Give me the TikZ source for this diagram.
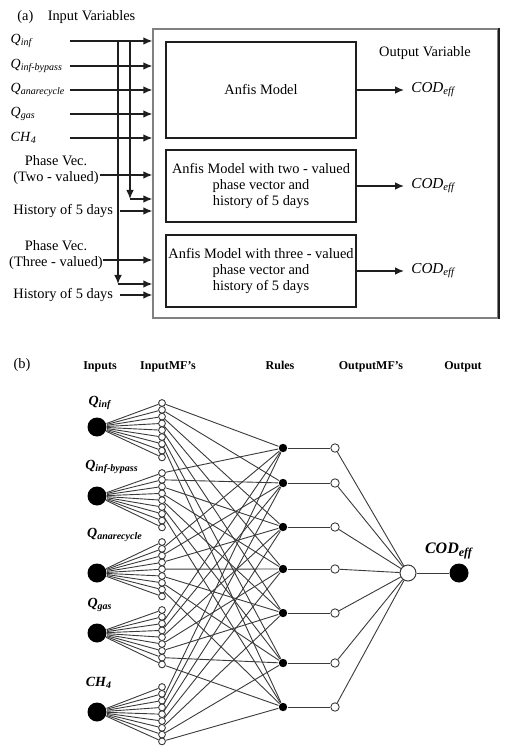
\documentclass[tikz,border=0pt]{standalone}
\usepackage{fontspec}
\setmainfont{Liberation Serif}
\usetikzlibrary{arrows.meta}
\definecolor{ink}{HTML}{1E1E1E}
\definecolor{frame}{HTML}{808080}
\definecolor{wirec}{HTML}{3A3A3A}
\newcommand\qsub[2]{\textit{#1}\textsubscript{\textit{#2}}}
\tikzset{px/.style={x=.5pt,y=-.5pt,line width=.7pt,font=\fontsize{7.2}{7.8}\selectfont},
  arr/.style={ink,-{Latex[length=4.5pt,width=3.8pt]}},
  mbox/.style={draw=ink,line width=.6pt,minimum width=95pt,inner xsep=0pt,align=center},
  hd/.style={anchor=base,font=\fontsize{6}{7}\selectfont\bfseries},
  bl/.style={font=\fontsize{7}{8}\selectfont\bfseries\itshape},
  wire/.style={wirec,line width=.45pt},
  inp/.style={circle,fill=black,inner sep=0,minimum size=9.5pt},
  mf/.style={circle,draw=wirec,fill=white,line width=.45pt,inner sep=0,minimum size=3.4pt},
  rl/.style={circle,fill=black,inner sep=0,minimum size=4.2pt},
  omf/.style={circle,draw=wirec,fill=white,line width=.45pt,inner sep=0,minimum size=4.2pt},
  agg/.style={circle,draw=wirec,fill=white,line width=.5pt,inner sep=0,minimum size=8pt}}
\begin{document}
\begin{tikzpicture}[px]
\useasboundingbox (0,0) rectangle (509,753);
% (a) single ANFIS models
\node[anchor=west] (lba) at (10,17) {(a)\hspace{1em}Input Variables};
\node[draw=frame,line width=.6pt,minimum width=172.5pt,minimum height=144.5pt] (sys) at (325.5,173.5) {};
\draw[ink,line width=1pt] (sys.north east) -- (sys.south east);
\node[mbox,minimum height=48pt] (m1) at (261,90) {Anfis Model};
\node[mbox,minimum height=36pt] (m2) at (261,186) {Anfis Model with two - valued\\phase vector and\\history of 5 days};
\node[mbox,minimum height=36pt] (m3) at (261,271) {Anfis Model with three - valued\\phase vector and\\history of 5 days};
\node (ov) at (425,53) {Output Variable};
\foreach \i in {1,2,3}{
  \node[anchor=west,font=\fontsize{7.6}{9}\selectfont] (o\i) at (404,0 |- m\i) {\qsub{COD}{eff}};
  \draw[arr] (m\i) -- (o\i);
}
\foreach \n/\y/\t in {1/41/{\qsub{Q}{inf}},2/66/{\qsub{Q}{inf-bypass}},3/90/{\qsub{Q}{anarecycle}},4/114/{\qsub{Q}{gas}},5/138/{\qsub{CH}{4}}}{
  \node[anchor=west,inner sep=0pt,font=\fontsize{7}{8}\selectfont] (in\n) at (10,\y) {\t};
  \coordinate (st\n) at (70,\y);
  \draw[arr] (st\n) -- (st\n -| sys.west);
}
\node[align=center] (ph2) at (56,170) {Phase Vec.\\(Two - valued)};
\node[anchor=west] (hi2) at (6,211) {History of 5 days};
\node[align=center] (ph3) at (56,255) {Phase Vec.\\(Three - valued)};
\node[anchor=west] (hi3) at (6,295) {History of 5 days};
\coordinate (a2) at (100,175);
\coordinate (a3) at (103,260);
\draw[arr] (a2) -- (a2 -| sys.west);
\draw[arr] (a3) -- (a3 -| sys.west);
\draw[arr] (hi2.east) -- (hi2.east -| sys.west);
\draw[arr] (hi3.east) -- (hi3.east -| sys.west);
% taps from Q_inf
\coordinate (j1) at (118,41); \coordinate (k1) at (118,284);
\coordinate (j2) at (130,41); \coordinate (k2) at (130,199);
\draw[arr] (j1) -- (k1); \draw[arr] (k1) -- (k1 -| sys.west);
\draw[arr] (j2) -- (k2); \draw[arr] (k2) -- (k2 -| sys.west);
% (b) ANFIS structure
\node (lbb) at (22,365) {(b)};
\node[hd] (h1) at (100,369) {Inputs};
\node[hd] (h2) at (168,369) {InputMF's};
\node[hd] (h3) at (280,369) {Rules};
\node[hd] (h4) at (371,369) {OutputMF's};
\node[hd] (h5) at (463,369) {Output};
\node[bl] (q1) at (100,403) {\qsub{Q}{inf}};
\node[bl] (q2) at (112,467) {\qsub{Q}{inf-bypass}};
\node[bl] (q3) at (115,535) {\qsub{Q}{anarecycle}};
\node[bl] (q4) at (100,605) {\qsub{Q}{gas}};
\node[bl] (q5) at (99,683) {\qsub{CH}{4}};
\foreach \g/\yi/\yt in {1/427/403,2/496/473,3/573/542,4/633/610,5/712/687}{
  \node[inp] (x\g) at (97,\yi) {};
  \foreach \k in {0,...,8}{
    \node[mf] (m\g-\k) at (162,\yt+6.8*\k) {};
    \draw[wire] (x\g) -- (m\g-\k);
  }
}
\foreach \r/\y in {1/448,2/483,3/527,4/569,5/613,6/663,7/707}{
  \node[rl] (r\r) at (283,\y) {};
  \node[omf] (p\r) at (335,\y) {};
}
\node[agg] (s) at (408,573) {};
\node[inp] (yout) at (459,573) {};
\node[bl,font=\fontsize{8}{9}\selectfont\bfseries\itshape] (cod) at (449,551) {\qsub{COD}{eff}};
\foreach \g/\off in {1/0,2/0,3/1,4/2,5/2}
  \foreach \r in {1,...,7}{
    \pgfmathtruncatemacro\k{\r-1+\off}
    \draw[wire] (m\g-\k) -- (r\r);
  }
\foreach \r in {1,...,7}{\draw[wire] (r\r) -- (p\r); \draw[wire] (p\r) -- (s);}
\draw[wire] (s) -- (yout);
\end{tikzpicture}
\end{document}
